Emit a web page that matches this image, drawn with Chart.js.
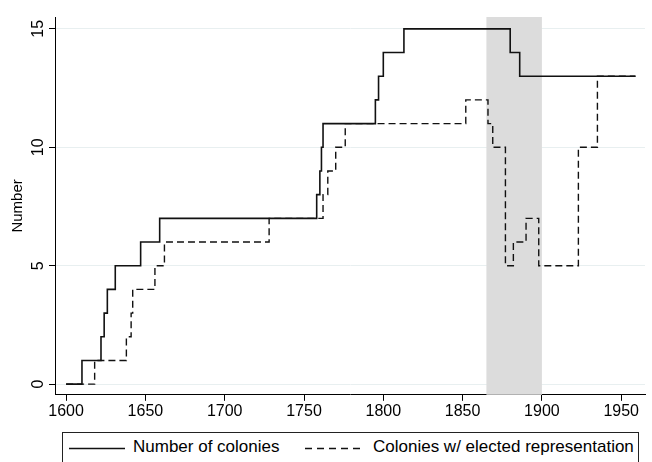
<!DOCTYPE html>
<html>
<head>
<meta charset="utf-8">
<script src="https://cdn.jsdelivr.net/npm/chart.js@4/dist/chart.umd.min.js"></script>
<style>
  html, body { margin: 0; padding: 0; background: #ffffff; }
  #wrap { position: relative; width: 652px; height: 462px; overflow: hidden; background: #fff; }
  #c { position: absolute; left: 0; top: 0; }
  #legend {
    position: absolute; left: 62px; top: 432px; width: 577px; height: 44px;
    border: 1px solid #222; box-sizing: border-box; background: #fff;
    font-family: "Liberation Sans", Arial, Helvetica, sans-serif; font-size: 17px; color: #000;
  }
  #legend .item { position: absolute; top: 4px; white-space: nowrap; line-height: 20px; }
  #legend svg { position: absolute; top: 5px; }
</style>
</head>
<body>
<div id="wrap">
  <canvas id="c" width="652" height="462"></canvas>
  <div id="legend"></div>
</div>
<script>
// ---- Data ----
const seriesNames = ['Number of colonies', 'Colonies w/ elected representation'];

// Number of colonies: year at which the count changes, and the new count
const coloniesYears  = [1600, 1610, 1622, 1624, 1626, 1631, 1647, 1659, 1758, 1760, 1761, 1762, 1795, 1797, 1800, 1813, 1880, 1886, 1959];
const coloniesValues = [0,    1,    2,    3,    4,    5,    6,    7,    8,    9,    10,   11,   12,   13,   14,   15,   14,   13,   13];

// Colonies with elected representation
const electedYears  = [1600, 1618, 1638, 1641, 1642, 1656, 1662, 1728, 1762, 1765, 1770, 1776, 1852, 1866, 1869, 1877, 1882, 1890, 1898, 1923, 1935, 1959];
const electedValues = [0,    1,    2,    3,    4,    5,    6,    7,    8,    9,    10,   11,   12,   11,   10,   5,    6,    7,    5,    10,   13,   13];

const xTicks = [1600, 1650, 1700, 1750, 1800, 1850, 1900, 1950];
const yTicks = [0, 5, 10, 15];
const shadeRange = [1865, 1900];
const yTitle = 'Number';

// ---- Chart ----
const FONT = '"Liberation Sans", Arial, Helvetica, sans-serif';

const shadePlugin = {
  id: 'shade',
  beforeDatasetsDraw(chart) {
    const {ctx, chartArea, scales} = chart;
    const x0 = scales.x.getPixelForValue(shadeRange[0]);
    const x1 = scales.x.getPixelForValue(shadeRange[1]);
    ctx.save();
    ctx.fillStyle = '#dcdcdc';
    ctx.fillRect(x0, chartArea.top, x1 - x0, chartArea.bottom - chartArea.top);
    ctx.restore();
  }
};

new Chart(document.getElementById('c'), {
  type: 'line',
  data: {
    datasets: [
      {
        label: seriesNames[0],
        data: coloniesYears.map((x, i) => ({x: x, y: coloniesValues[i]})),
        borderColor: '#111111',
        borderWidth: 1.6,
        pointRadius: 0,
        stepped: 'before',
        fill: false
      },
      {
        label: seriesNames[1],
        data: electedYears.map((x, i) => ({x: x, y: electedValues[i]})),
        borderColor: '#111111',
        borderWidth: 1.4,
        borderDash: [7, 4],
        pointRadius: 0,
        stepped: 'before',
        fill: false
      }
    ]
  },
  options: {
    responsive: false,
    animation: false,
    events: [],
    layout: { padding: { left: 0, right: 7, top: 17, bottom: 40 } },
    plugins: { legend: { display: false }, tooltip: { enabled: false } },
    scales: {
      x: {
        type: 'linear',
        min: 1593,
        max: 1965,
        afterBuildTicks: s => { s.ticks = xTicks.map(v => ({value: v})); },
        grid: { drawOnChartArea: false, drawTicks: true, tickLength: 6, tickColor: '#000', tickWidth: 1 },
        border: { display: true, color: '#000', width: 1 },
        ticks: { font: { family: FONT, size: 16 }, color: '#000', padding: 1, maxRotation: 0, autoSkip: false,
                 callback: v => String(v) }
      },
      y: {
        type: 'linear',
        min: -0.45,
        max: 15.5,
        afterBuildTicks: s => { s.ticks = yTicks.map(v => ({value: v})); },
        afterFit: s => { s.width = 55; },
        grid: { color: '#e8eff0', lineWidth: 1, drawTicks: true, tickLength: 6, tickColor: '#000', tickWidth: 1 },
        border: { display: true, color: '#000', width: 1 },
        ticks: { font: { family: FONT, size: 16 }, color: '#000', padding: 2, minRotation: 90, maxRotation: 90, crossAlign: 'center', autoSkip: false,
                 callback: v => String(v) },
        title: { display: true, text: yTitle, font: { family: FONT, size: 15 }, color: '#000', padding: { top: 9, bottom: 0 } }
      }
    }
  },
  plugins: [shadePlugin]
});

// ---- Legend (HTML, real text) ----
const legend = document.getElementById('legend');
function addSample(left, dash) {
  const svg = document.createElementNS('http://www.w3.org/2000/svg', 'svg');
  svg.setAttribute('width', '56');
  svg.setAttribute('height', '20');
  svg.style.left = left + 'px';
  const ln = document.createElementNS('http://www.w3.org/2000/svg', 'line');
  ln.setAttribute('x1', '0'); ln.setAttribute('x2', '56');
  ln.setAttribute('y1', '10.5'); ln.setAttribute('y2', '10.5');
  ln.setAttribute('stroke', '#111');
  ln.setAttribute('stroke-width', dash ? '1.4' : '1.6');
  if (dash) ln.setAttribute('stroke-dasharray', '7 5');
  svg.appendChild(ln);
  legend.appendChild(svg);
}
function addText(left, text) {
  const s = document.createElement('span');
  s.className = 'item';
  s.style.left = left + 'px';
  s.textContent = text;
  legend.appendChild(s);
}
addSample(6, false);
addText(70, seriesNames[0]);
addSample(242, true);
addText(310, seriesNames[1]);
</script>
</body>
</html>
